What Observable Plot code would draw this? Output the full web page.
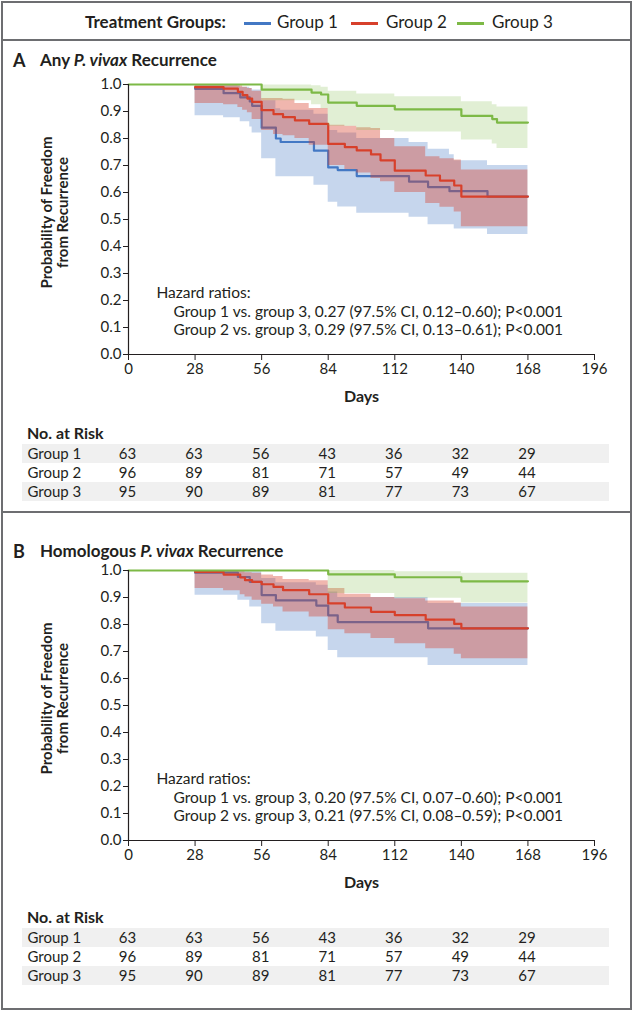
<!DOCTYPE html>
<html><head><meta charset="utf-8">
<script src="https://cdn.jsdelivr.net/npm/d3@7"></script>
<script src="https://cdn.jsdelivr.net/npm/@observablehq/plot@0.6"></script>
<style>
body{margin:0;background:#fff;font-family:Lato,"Open Sans",sans-serif;color:#231f20;}
#wrap{position:relative;width:633px;height:1011px;overflow:hidden;}
.abs{position:absolute;white-space:nowrap;}
.box{position:absolute;left:1px;top:1px;width:627px;height:1005px;border:2px solid #6d6e71;}
.sep{position:absolute;left:1px;width:631px;height:2px;background:#6d6e71;}
.stripe{position:absolute;left:22px;width:587px;height:19px;background:#f0f0f0;}
.sw{position:absolute;height:3px;width:27px;}
</style></head><body><div id="wrap"></div>
<script>
// ---------- data ----------
const xTicks = [0, 28, 56, 84, 112, 140, 168, 196];
const yTicks = [0, 0.1, 0.2, 0.3, 0.4, 0.5, 0.6, 0.7, 0.8, 0.9, 1.0];
const groupNames = ["Group 1", "Group 2", "Group 3"];
const groupColors = ["#4378c4", "#d7402b", "#7db946"];
const bandOpacity = [0.3, 0.38, 0.23];
const riskDays = [0, 28, 56, 84, 112, 140, 168];
const riskGroup1 = [63, 63, 56, 43, 36, 32, 29];
const riskGroup2 = [96, 89, 81, 71, 57, 49, 44];
const riskGroup3 = [95, 90, 89, 81, 77, 73, 67];
const legendTitle = "Treatment Groups:";
const yLabelLines = ["Probability of Freedom", "from Recurrence"];
const xLabel = "Days";
const hazardA = ["Hazard ratios:",
  "Group 1 vs. group 3, 0.27 (97.5% CI, 0.12\u20130.60); P<0.001",
  "Group 2 vs. group 3, 0.29 (97.5% CI, 0.13\u20130.61); P<0.001"];
const hazardB = ["Hazard ratios:",
  "Group 1 vs. group 3, 0.20 (97.5% CI, 0.07\u20130.60); P<0.001",
  "Group 2 vs. group 3, 0.21 (97.5% CI, 0.08\u20130.59); P<0.001"];

// Panel A: any recurrence
const aG1Days = [28, 40, 47, 51, 52, 56, 62, 64, 78, 84, 88, 96, 118, 126, 135, 137, 151, 168];
const aG1Surv = [0.984, 0.968, 0.952, 0.937, 0.921, 0.84, 0.80, 0.787, 0.755, 0.693, 0.683, 0.661, 0.64, 0.62, 0.605, 0.605, 0.585, 0.585];
const aG1Low  = [0.884, 0.877, 0.862, 0.843, 0.82, 0.725, 0.658, 0.658, 0.627, 0.564, 0.546, 0.523, 0.508, 0.481, 0.481, 0.465, 0.444, 0.444];
const aG1High = [0.998, 0.995, 0.99, 0.985, 0.98, 0.94, 0.91, 0.905, 0.89, 0.83, 0.82, 0.80, 0.785, 0.76, 0.74, 0.718, 0.70, 0.70];

const aG2Days = [28, 40, 46, 48, 50, 52, 56, 61, 65, 70, 76, 84, 91, 96, 102, 106, 112, 125, 131, 137, 140, 168];
const aG2Surv = [0.99, 0.985, 0.973, 0.961, 0.948, 0.936, 0.905, 0.89, 0.879, 0.867, 0.854, 0.78, 0.768, 0.756, 0.741, 0.719, 0.681, 0.663, 0.644, 0.626, 0.585, 0.585];
const aG2High = [1.0, 0.998, 0.995, 0.99, 0.985, 0.975, 0.948, 0.948, 0.945, 0.93, 0.911, 0.849, 0.845, 0.84, 0.837, 0.80, 0.769, 0.732, 0.725, 0.72, 0.683, 0.683];
const aG2Low  = [0.93, 0.925, 0.915, 0.905, 0.895, 0.87, 0.83, 0.815, 0.81, 0.80, 0.775, 0.70, 0.685, 0.672, 0.652, 0.64, 0.60, 0.559, 0.545, 0.528, 0.473, 0.473];

const aG3Days = [0, 56, 77, 81, 84, 96, 112, 140, 153, 155, 168];
const aG3Surv = [1.0, 0.981, 0.970, 0.963, 0.933, 0.921, 0.908, 0.884, 0.872, 0.859, 0.859];
const aG3High = [1.0, 0.998, 0.995, 0.99, 0.975, 0.965, 0.955, 0.936, 0.925, 0.917, 0.917];
const aG3Low  = [1.0, 0.94, 0.925, 0.91, 0.845, 0.83, 0.824, 0.794, 0.78, 0.763, 0.763];

// Panel B: homologous recurrence
const bG1Days = [28, 46, 51, 56, 62, 79, 84, 88, 126, 168];
const bG1Surv = [0.992, 0.976, 0.958, 0.909, 0.889, 0.87, 0.834, 0.809, 0.786, 0.786];
const bG1High = [1.0, 1.0, 0.995, 0.97, 0.955, 0.945, 0.92, 0.90, 0.878, 0.878];
const bG1Low  = [0.908, 0.89, 0.865, 0.803, 0.775, 0.754, 0.704, 0.677, 0.648, 0.648];

const bG2Days = [28, 40, 47, 49, 52, 56, 61, 65, 76, 84, 91, 102, 112, 125, 137, 140, 168];
const bG2Surv = [0.995, 0.985, 0.974, 0.964, 0.958, 0.949, 0.939, 0.927, 0.912, 0.878, 0.863, 0.847, 0.835, 0.818, 0.802, 0.786, 0.786];
const bG2High = [1.0, 1.0, 0.995, 0.992, 0.99, 0.983, 0.978, 0.967, 0.962, 0.933, 0.912, 0.90, 0.895, 0.887, 0.88, 0.865, 0.865];
const bG2Low  = [0.933, 0.925, 0.91, 0.902, 0.89, 0.875, 0.865, 0.846, 0.828, 0.781, 0.766, 0.748, 0.729, 0.71, 0.69, 0.673, 0.673];

const bG3Days = [0, 84, 112, 140, 168];
const bG3Surv = [1.0, 0.986, 0.975, 0.96, 0.96];
const bG3High = [1.0, 1.0, 0.995, 0.99, 0.99];
const bG3Low  = [1.0, 0.915, 0.897, 0.88, 0.88];

// ---------- helpers ----------
const wrap = document.getElementById("wrap");
function div(cls, css, html) {
  const d = document.createElement("div");
  d.className = cls;
  Object.assign(d.style, css);
  if (html != null) d.innerHTML = html;
  wrap.appendChild(d);
  return d;
}
function rowsOf(t, s, lo, hi) { return t.map((d, i) => ({t: d, s: s[i], lo: lo[i], hi: hi[i]})); }

const FONT = "Lato, 'Open Sans', sans-serif";

function curvePlot(series, hazard) {
  const marks = [];
  series.forEach((rows, gi) => {
    marks.push(Plot.areaY(rows, {x: "t", y1: "lo", y2: "hi", curve: "step-after", fill: groupColors[gi], fillOpacity: bandOpacity[gi]}));
    marks.push(Plot.lineY(rows, {x: "t", y: "s", curve: "step-after", stroke: groupColors[gi], strokeWidth: 2.2}));
  });
  marks.push(
    Plot.ruleY([0], {stroke: "#231f20", strokeWidth: 1.2}),
    Plot.ruleX([0], {stroke: "#231f20", strokeWidth: 1.2}),
    Plot.axisX(xTicks, {tickSize: 6, tickPadding: 3, label: null, fontSize: 15, stroke: "#231f20"}),
    Plot.axisY(yTicks, {tickSize: 5, tickPadding: 2, label: null, fontSize: 15, tickFormat: d3.format(".1f"), stroke: "#231f20"}),
    Plot.text([yLabelLines[0]], {frameAnchor: "left", textAnchor: "middle", rotate: -90, dx: -81, dy: -7, fontWeight: "bold", fontSize: 15}),
    Plot.text([yLabelLines[1]], {frameAnchor: "left", textAnchor: "middle", rotate: -90, dx: -65, dy: -7, fontWeight: "bold", fontSize: 15}),
    Plot.text([xLabel], {frameAnchor: "bottom", dy: 47, fontWeight: "bold", fontSize: 16}),
    Plot.text([hazard[0]], {frameAnchor: "bottom-left", textAnchor: "start", dx: 28, dy: -57, fontSize: 15.5}),
    Plot.text([hazard[1]], {frameAnchor: "bottom-left", textAnchor: "start", dx: 45, dy: -38, fontSize: 15.5}),
    Plot.text([hazard[2]], {frameAnchor: "bottom-left", textAnchor: "start", dx: 45, dy: -20, fontSize: 15.5})
  );
  return Plot.plot({
    width: 633, height: 344,
    marginLeft: 128, marginRight: 39, marginTop: 14, marginBottom: 60,
    x: {domain: [0, 196]},
    y: {domain: [0, 1]},
    style: {fontFamily: FONT, fontSize: "15px", color: "#231f20", background: "transparent", overflow: "visible"},
    marks
  });
}

function riskPlot() {
  const rows = [];
  [riskGroup1, riskGroup2, riskGroup3].forEach((arr, gi) => arr.forEach((n, i) => rows.push({group: groupNames[gi], day: riskDays[i], n})));
  return Plot.plot({
    width: 633, height: 57,
    marginLeft: 128, marginRight: 39, marginTop: 0, marginBottom: 0,
    x: {domain: [0, 196], axis: null},
    y: {type: "point", domain: groupNames, padding: 0.5, axis: null},
    style: {fontFamily: FONT, fontSize: "15px", color: "#231f20", background: "transparent", overflow: "visible"},
    marks: [
      Plot.text(rows, {x: "day", y: "group", text: "n", fontSize: 15, dx: -1}),
      Plot.text(groupNames, {y: d => d, frameAnchor: "left", textAnchor: "start", dx: -101, fontSize: 15})
    ]
  });
}

// ---------- layout ----------
div("box", {});
div("sep", {top: "39px"});
div("sep", {top: "511px"});

// legend
div("abs", {left: "85px", top: "12px", fontSize: "17px", fontWeight: "bold", lineHeight: "20px"}, legendTitle);
const swX = [244, 351, 457], labX = [277, 386, 492];
groupNames.forEach((g, i) => {
  div("sw", {left: swX[i] + "px", top: "22px", background: groupColors[i]});
  div("abs", {left: labX[i] + "px", top: "12px", fontSize: "17px", lineHeight: "20px"}, g);
});

// panels
const panels = [
  {letter: "A", title: "Any <i>P. vivax</i> Recurrence", titleTop: 50, plotTop: 70, riskHead: 423, riskTop: 444,
   series: [rowsOf(aG1Days, aG1Surv, aG1Low, aG1High), rowsOf(aG2Days, aG2Surv, aG2Low, aG2High), rowsOf(aG3Days, aG3Surv, aG3Low, aG3High)], hazard: hazardA},
  {letter: "B", title: "Homologous <i>P. vivax</i> Recurrence", titleTop: 541, plotTop: 556, riskHead: 907, riskTop: 928,
   series: [rowsOf(bG1Days, bG1Surv, bG1Low, bG1High), rowsOf(bG2Days, bG2Surv, bG2Low, bG2High), rowsOf(bG3Days, bG3Surv, bG3Low, bG3High)], hazard: hazardB}
];
panels.forEach(p => {
  div("abs", {left: "13px", top: p.titleTop + "px", fontSize: "18px", fontWeight: "bold", lineHeight: "20px"}, p.letter);
  div("abs", {left: "40px", top: p.titleTop + "px", fontSize: "17px", fontWeight: "bold", lineHeight: "20px"}, p.title);
  const c = curvePlot(p.series, p.hazard);
  const h = div("abs", {left: "0px", top: p.plotTop + "px"});
  h.appendChild(c);
  div("abs", {left: "27px", top: p.riskHead + "px", fontSize: "16px", fontWeight: "bold", lineHeight: "20px"}, "No. at Risk");
  div("stripe", {top: p.riskTop + "px"});
  div("stripe", {top: (p.riskTop + 38) + "px"});
  const r = riskPlot();
  const rh = div("abs", {left: "0px", top: p.riskTop + "px"});
  rh.appendChild(r);
});
</script></body></html>
